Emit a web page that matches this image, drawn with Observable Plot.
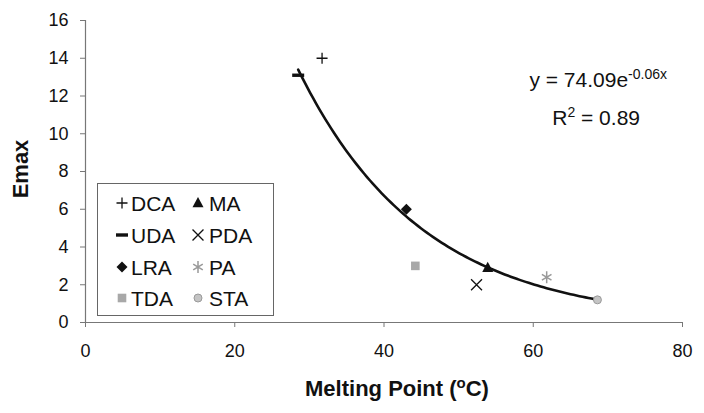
<!DOCTYPE html>
<html>
<head>
<meta charset="utf-8">
<script src="https://cdn.jsdelivr.net/npm/d3@7"></script>
<script src="https://cdn.jsdelivr.net/npm/@observablehq/plot@0.6"></script>
<style>
  html, body { margin: 0; padding: 0; background: #fff; }
  svg { display: block; }
</style>
</head>
<body>
<div id="chart"></div>
<script>
// ---- data ----
const names = ["DCA", "UDA", "LRA", "TDA", "MA", "PDA", "PA", "STA"];
const meltingPoint = [31.7, 28.5, 43.0, 44.2, 53.9, 52.4, 61.8, 68.6];
const emax = [14.0, 13.1, 6.0, 3.0, 2.9, 2.0, 2.4, 1.2];
const fitA = 74.09;   // y = 74.09 e^(-0.06x)
const fitB = -0.06;
const fitR2 = 0.89;
const xTicks = [0, 20, 40, 60, 80];
const yTicks = [0, 2, 4, 6, 8, 10, 12, 14, 16];

// ---- custom symbols ----
const R = s => Math.sqrt(s / Math.PI);
const symPlus = {draw(c, s) { const r = R(s); c.moveTo(-r, 0); c.lineTo(r, 0); c.moveTo(0, -r); c.lineTo(0, r); }};
const symDash = {draw(c, s) { const r = R(s); c.moveTo(-r, -1.7); c.lineTo(r, -1.7); c.lineTo(r, 1.7); c.lineTo(-r, 1.7); c.closePath(); }};
const symDiamond = {draw(c, s) { const r = R(s); c.moveTo(0, -r); c.lineTo(r, 0); c.lineTo(0, r); c.lineTo(-r, 0); c.closePath(); }};
const symSquare = {draw(c, s) { const r = R(s); c.rect(-r, -r, 2 * r, 2 * r); }};
const symTriangle = {draw(c, s) { const r = R(s); c.moveTo(0, -r * 1.1); c.lineTo(r, r * 0.75); c.lineTo(-r, r * 0.75); c.closePath(); }};
const symTimes = {draw(c, s) { const r = R(s) * 0.75; c.moveTo(-r, -r); c.lineTo(r, r); c.moveTo(r, -r); c.lineTo(-r, r); }};
const symAsterisk = {draw(c, s) { const r = R(s); const d = r * 0.8;
  c.moveTo(0, -r); c.lineTo(0, r); c.moveTo(-d, -d * 0.6); c.lineTo(d, d * 0.6); c.moveTo(d, -d * 0.6); c.lineTo(-d, d * 0.6); }};
const symCircle = {draw(c, s) { const r = R(s); c.moveTo(r, 0); c.arc(0, 0, r, 0, 2 * Math.PI); }};

const styles = {
  DCA: {symbol: symPlus, r: 5.5, fill: "none", stroke: "#111", strokeWidth: 1.3},
  UDA: {symbol: symDash, r: 6, fill: "#111", stroke: "none", strokeWidth: 0},
  LRA: {symbol: symDiamond, r: 5.5, fill: "#111", stroke: "none", strokeWidth: 0},
  TDA: {symbol: symSquare, r: 4.3, fill: "#a8a8a8", stroke: "none", strokeWidth: 0},
  MA:  {symbol: symTriangle, r: 5.5, fill: "#111", stroke: "none", strokeWidth: 0},
  PDA: {symbol: symTimes, r: 7.3, fill: "none", stroke: "#111", strokeWidth: 1.3},
  PA:  {symbol: symAsterisk, r: 6, fill: "none", stroke: "#999", strokeWidth: 1.5},
  STA: {symbol: symCircle, r: 4, fill: "#c4c4c4", stroke: "#9a9a9a", strokeWidth: 1}
};

const points = names.map((n, i) => ({name: n, x: meltingPoint[i], y: emax[i]}));
const xMin = d3.min(meltingPoint), xMax = d3.max(meltingPoint);
const curve = d3.range(0, 101).map(k => {
  const x = xMin + (xMax - xMin) * k / 100;
  return {x, y: fitA * Math.exp(fitB * x)};
});

const font = "'Liberation Sans', Arial, sans-serif";

const svg = Plot.plot({
  width: 704,
  height: 413,
  marginLeft: 85,
  marginRight: 22,
  marginTop: 20,
  marginBottom: 91,
  style: {fontFamily: font, fontSize: "18px", color: "#111", background: "#fff"},
  x: {domain: [0, 80], ticks: xTicks},
  y: {domain: [0, 16], ticks: yTicks},
  marks: [
    Plot.axisX({ticks: xTicks, tickSize: 5, tickPadding: 17, label: null, stroke: "#777", strokeOpacity: 1, fill: "#111"}),
    Plot.axisY({ticks: yTicks, tickSize: 5, tickPadding: 12, label: null, stroke: "#777", strokeOpacity: 1, fill: "#111"}),
    Plot.ruleY([0], {stroke: "#777", strokeWidth: 1.2}),
    Plot.ruleX([0], {stroke: "#777", strokeWidth: 1.2}),
    Plot.line(curve, {x: "x", y: "y", stroke: "#111", strokeWidth: 2.6, curve: "linear"}),
    ...names.map(n => {
      const st = styles[n];
      return Plot.dot(points.filter(p => p.name === n), {
        x: "x", y: "y", symbol: st.symbol, r: st.r,
        fill: st.fill, stroke: st.stroke, strokeWidth: st.strokeWidth
      });
    })
  ]
});

const g = d3.select(svg);

// Axis titles
const xt = g.append("text")
  .attr("x", 397).attr("y", 396)
  .attr("text-anchor", "middle")
  .style("font-family", font).style("font-weight", "bold").style("font-size", "22px").attr("fill", "#111");
xt.append("tspan").text("Melting Point (");
xt.append("tspan").text("o").attr("dy", -8).style("font-size", "15px");
xt.append("tspan").text("C)").attr("dy", 8);

g.append("text")
  .attr("transform", "translate(28,169) rotate(-90)")
  .attr("text-anchor", "middle")
  .style("font-family", font).style("font-weight", "bold").style("font-size", "22px").attr("fill", "#111")
  .text("Emax");

// Equation
const eq = g.append("text")
  .attr("x", 667).attr("y", 87).attr("text-anchor", "end")
  .style("font-family", font).style("font-size", "21px").attr("fill", "#111");
eq.append("tspan").text("y = " + fitA.toFixed(2) + "e");
eq.append("tspan").text(fitB.toFixed(2) + "x").attr("dy", -8).style("font-size", "14px");

const r2 = g.append("text")
  .attr("x", 640).attr("y", 125).attr("text-anchor", "end")
  .style("font-family", font).style("font-size", "21px").attr("fill", "#111");
r2.append("tspan").text("R");
r2.append("tspan").text("2").attr("dy", -8).style("font-size", "14px");
r2.append("tspan").text(" = " + fitR2.toFixed(2)).attr("dy", 8);

// Legend
const lg = g.append("g");
lg.append("rect").attr("x", 97.5).attr("y", 183.5).attr("width", 176).attr("height", 132)
  .attr("fill", "#fff").attr("stroke", "#666").attr("stroke-width", 1);
const rowY = [203, 235, 267, 298];
const colSym = [122, 198];
const colText = [131, 209];
names.forEach((n, i) => {
  const col = Math.floor(i / 4), row = i % 4;
  const st = styles[n];
  lg.append("path")
    .attr("transform", `translate(${colSym[col]},${rowY[row]})`)
    .attr("d", d3.symbol(st.symbol, Math.PI * st.r * st.r)())
    .attr("fill", st.fill).attr("stroke", st.stroke).attr("stroke-width", st.strokeWidth);
  lg.append("text")
    .attr("x", colText[col]).attr("y", rowY[row] + 7.5)
    .attr("text-anchor", "start")
    .style("font-family", font).style("font-size", "21px").attr("fill", "#111")
    .text(n);
});

document.getElementById("chart").appendChild(svg);
</script>
</body>
</html>
